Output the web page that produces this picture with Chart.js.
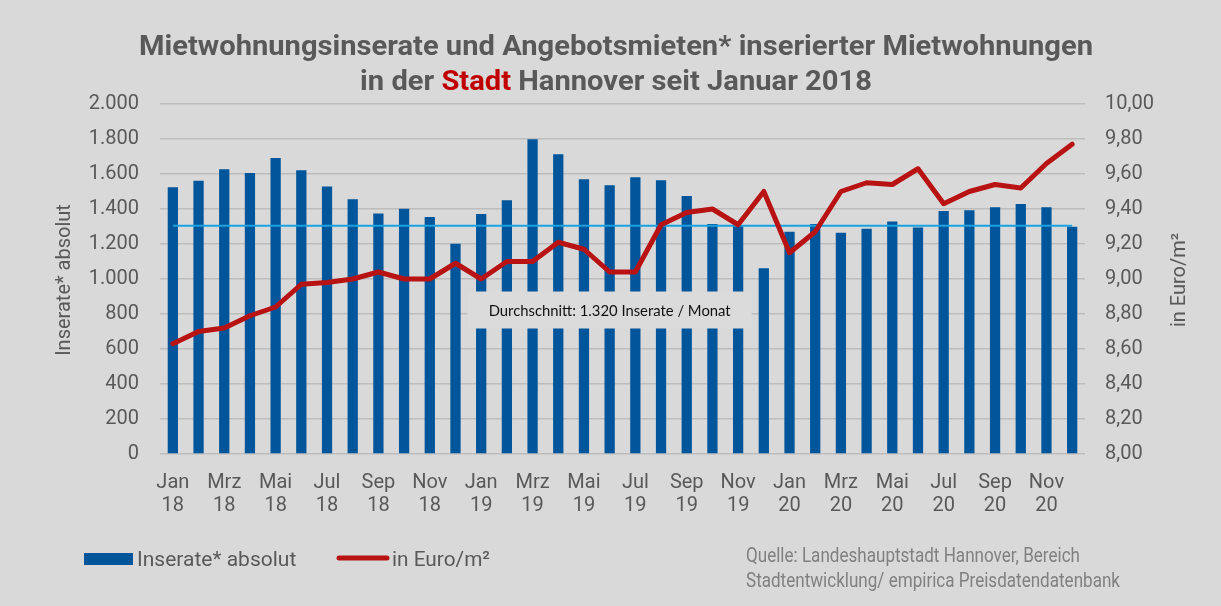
<!DOCTYPE html>
<html lang="de">
<head>
<meta charset="utf-8">
<title>Mietwohnungsinserate Hannover</title>
<script src="https://cdn.jsdelivr.net/npm/chart.js@4"></script>
<style>
  html, body { margin: 0; padding: 0; background: #d9d9d9; }
  #chart { display: block; background: #d9d9d9; }
</style>
</head>
<body>
<canvas id="chart" width="1221" height="606"></canvas>
<script>
// Kategorien (Monate)
const months = [
  'Jan 18', 'Feb 18', 'Mrz 18', 'Apr 18', 'Mai 18', 'Jun 18', 'Jul 18', 'Aug 18', 'Sep 18', 'Okt 18', 'Nov 18', 'Dez 18',
  'Jan 19', 'Feb 19', 'Mrz 19', 'Apr 19', 'Mai 19', 'Jun 19', 'Jul 19', 'Aug 19', 'Sep 19', 'Okt 19', 'Nov 19', 'Dez 19',
  'Jan 20', 'Feb 20', 'Mrz 20', 'Apr 20', 'Mai 20', 'Jun 20', 'Jul 20', 'Aug 20', 'Sep 20', 'Okt 20', 'Nov 20', 'Dez 20'
];

// Inserate absolut (linke Achse)
const inserate = [
  1525, 1561, 1627, 1606, 1692, 1622, 1528, 1456, 1374, 1401, 1355, 1201,
  1371, 1450, 1799, 1713, 1570, 1536, 1582, 1565, 1475, 1315, 1305, 1062,
  1270, 1315, 1264, 1287, 1329, 1294, 1389, 1393, 1410, 1428, 1410, 1298
];

// Angebotsmieten in Euro/m² (rechte Achse)
const preise = [
  8.63, 8.70, 8.72, 8.79, 8.84, 8.97, 8.98, 9.00, 9.04, 9.00, 9.00, 9.09,
  9.00, 9.10, 9.10, 9.21, 9.17, 9.04, 9.04, 9.31, 9.38, 9.40, 9.31, 9.50,
  9.15, 9.27, 9.50, 9.55, 9.54, 9.63, 9.43, 9.50, 9.54, 9.52, 9.66, 9.77
];

// Durchschnittslinie (wie im Bild gezeichnet) und Beschriftung
const avgLevel = 1305;
const avgLabel = 'Durchschnitt: 1.320 Inserate / Monat';
const avgLabelAt = { month: 'Jun 19', value: 820 };

// Achsen-Ticks
const leftTicks = { min: 0, max: 2000, step: 200 };
const rightTicks = { min: 8, max: 10, step: 0.2 };

const GREY = '#595959';
const BLUE = '#00559b';
const RED = '#b81212';
const LIGHTBLUE = '#18a2e2';

Chart.defaults.font.family = 'Roboto, "DejaVu Sans", sans-serif';
Chart.defaults.color = GREY;

function fmtThousands(v) {
  return String(v).replace(/\B(?=(\d{3})+(?!\d))/g, '.');
}

// draws text squeezed horizontally so it fits maxW
function fitText(ctx, text, x, y, maxW, align) {
  const w = ctx.measureText(text).width;
  const sx = Math.min(1, maxW / w);
  ctx.save();
  ctx.translate(x, y);
  ctx.scale(sx, 1);
  ctx.textAlign = align || 'left';
  ctx.fillText(text, 0, 0);
  ctx.restore();
}

const extrasPlugin = {
  id: 'extras',
  afterDatasetsDraw(chart) {
    // Beschriftungsbox fuer den Durchschnitt
    const ctx = chart.ctx;
    const x = chart.scales.x.getPixelForValue(months.indexOf(avgLabelAt.month));
    const y = chart.scales.y.getPixelForValue(avgLabelAt.value);
    ctx.save();
    ctx.fillStyle = '#dbdbdb';
    ctx.fillRect(x - 142, y - 19, 284, 37);
    ctx.fillStyle = '#111';
    ctx.font = '15px Lato, "Noto Sans", sans-serif';
    ctx.textBaseline = 'middle';
    fitText(ctx, avgLabel, x, y + 1, 242, 'center');
    ctx.restore();
  },
  afterDraw(chart) {
    const ctx = chart.ctx;
    ctx.save();

    // Titel
    ctx.font = 'bold 28px Roboto, "DejaVu Sans", sans-serif';
    ctx.textBaseline = 'alphabetic';
    const l1 = 'Mietwohnungsinserate und Angebotsmieten* inserierter Mietwohnungen';
    const sx = 954 / ctx.measureText(l1).width;
    ctx.fillStyle = GREY;
    ctx.save();
    ctx.translate(616, 55);
    ctx.scale(sx, 1);
    ctx.textAlign = 'center';
    ctx.fillText(l1, 0, 0);
    ctx.restore();

    const parts = [['in der ', GREY], ['Stadt', '#c00000'], [' Hannover seit Januar 2018', GREY]];
    const total = parts.reduce((s, p) => s + ctx.measureText(p[0]).width, 0);
    ctx.save();
    ctx.translate(616, 90);
    ctx.scale(sx, 1);
    ctx.textAlign = 'left';
    let px = -total / 2;
    parts.forEach(p => {
      ctx.fillStyle = p[1];
      ctx.fillText(p[0], px, 0);
      px += ctx.measureText(p[0]).width;
    });
    ctx.restore();

    // Achsentitel
    ctx.font = '20px Roboto, "DejaVu Sans", sans-serif';
    ctx.fillStyle = GREY;
    ctx.textBaseline = 'middle';
    [['Inserate* absolut', 65, 167], ['in Euro/m²', 1180, 105]].forEach(t => {
      ctx.save();
      ctx.translate(t[1], 280);
      ctx.rotate(-Math.PI / 2);
      fitText(ctx, t[0], 0, 0, t[2], 'center');
      ctx.restore();
    });

    // Legende
    ctx.fillStyle = BLUE;
    ctx.fillRect(84, 553, 49, 12);
    ctx.strokeStyle = RED;
    ctx.lineWidth = 5;
    ctx.lineCap = 'round';
    ctx.beginPath();
    ctx.moveTo(339, 558);
    ctx.lineTo(387, 558);
    ctx.stroke();
    ctx.fillStyle = GREY;
    ctx.textBaseline = 'alphabetic';
    ctx.font = '21px Roboto, "DejaVu Sans", sans-serif';
    fitText(ctx, chart.data.datasets[0].label, 137, 566, 166);
    fitText(ctx, chart.data.datasets[2].label, 392, 566, 98);

    // Quelle
    ctx.fillStyle = '#808080';
    ctx.font = '20px Roboto, "DejaVu Sans", sans-serif';
    fitText(ctx, 'Quelle: Landeshauptstadt Hannover, Bereich', 746, 562, 334);
    fitText(ctx, 'Stadtentwicklung/ empirica Preisdatendatenbank', 746, 587, 374);

    ctx.restore();
  }
};

new Chart(document.getElementById('chart'), {
  data: {
    labels: months,
    datasets: [
      {
        type: 'bar',
        label: 'Inserate* absolut',
        data: inserate,
        yAxisID: 'y',
        backgroundColor: BLUE,
        categoryPercentage: 1,
        barPercentage: 0.4,
        order: 3
      },
      {
        type: 'line',
        label: 'Durchschnitt',
        data: [{ x: months[0], y: avgLevel }, { x: months[months.length - 1], y: avgLevel }],
        yAxisID: 'y',
        borderColor: LIGHTBLUE,
        borderWidth: 2,
        pointRadius: 0,
        order: 2
      },
      {
        type: 'line',
        label: 'in Euro/m²',
        data: preise,
        yAxisID: 'y1',
        borderColor: RED,
        borderWidth: 5,
        borderJoinStyle: 'round',
        borderCapStyle: 'round',
        pointRadius: 0,
        tension: 0,
        order: 1
      }
    ]
  },
  options: {
    responsive: false,
    devicePixelRatio: 1,
    animation: false,
    layout: { padding: { top: 104, left: 0, right: 0, bottom: 0 } },
    plugins: {
      legend: { display: false },
      title: { display: false },
      tooltip: { enabled: false }
    },
    scales: {
      x: {
        grid: { display: false },
        border: { display: false },
        ticks: {
          autoSkip: false,
          maxRotation: 0,
          minRotation: 0,
          padding: 9,
          font: { size: 20, lineHeight: 1.15 },
          color: GREY,
          callback: function (v, i) {
            return i % 2 === 0 ? months[i].split(' ') : '';
          }
        },
        afterFit: s => { s.height = 152; }
      },
      y: {
        position: 'left',
        min: leftTicks.min,
        max: leftTicks.max,
        grid: { color: '#bdbdbd', lineWidth: 1.5, drawTicks: false },
        border: { display: false },
        ticks: {
          stepSize: leftTicks.step,
          padding: 21,
          font: { size: 20 },
          color: GREY,
          callback: v => fmtThousands(v)
        },
        afterFit: s => { s.width = 160; }
      },
      y1: {
        position: 'right',
        min: rightTicks.min,
        max: rightTicks.max,
        grid: { display: false, drawTicks: false },
        border: { display: false },
        ticks: {
          stepSize: rightTicks.step,
          padding: 20,
          font: { size: 20 },
          color: GREY,
          callback: v => v.toFixed(2).replace('.', ',')
        },
        afterFit: s => { s.width = 136; }
      }
    }
  },
  plugins: [extrasPlugin]
});
</script>
</body>
</html>
